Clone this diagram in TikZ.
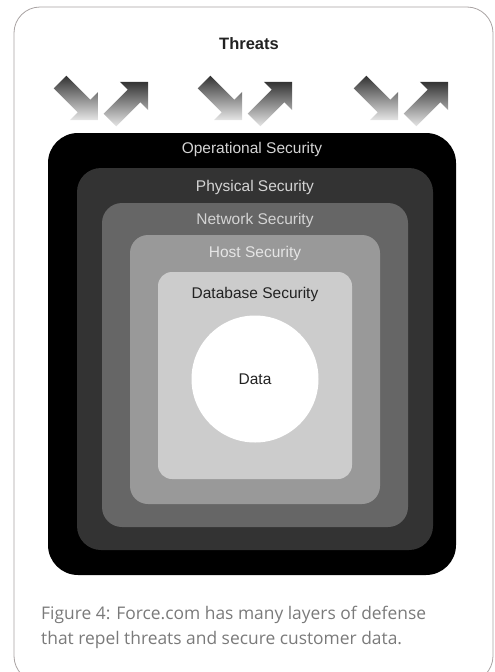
\documentclass[tikz,border=0pt]{standalone}
\usepackage{fontspec}
\setmainfont{Liberation Sans}
\newfontfamily\captionfont{Open Sans}
\usepackage{xcolor}
\definecolor{cardEdge}{HTML}{A8A2A2}
\definecolor{layerOne}{HTML}{000000}
\definecolor{layerTwo}{HTML}{333333}
\definecolor{layerThree}{HTML}{666666}
\definecolor{layerFour}{HTML}{999999}
\definecolor{layerFive}{HTML}{CCCCCC}
\definecolor{lightText}{HTML}{D4D4D4}
\definecolor{darkText}{HTML}{222222}
\definecolor{captionGray}{HTML}{7A7A7A}
\usetikzlibrary{positioning, calc}

\begin{document}
\begin{tikzpicture}[
        x=1pt, y=-1pt,
        layer/.style={rectangle, rounded corners=#1, draw=none, inner sep=0pt},
        lbl/.style={font=\fontsize{15.5}{17}\selectfont, inner sep=0pt},
        darrow/.style={top color=layerTwo, bottom color=white!90!black, draw=none},
    ]
        \useasboundingbox (0,0) rectangle (495,672);

        % Card
        \draw[cardEdge, line width=0.8pt, rounded corners=26] (14,7) rectangle (493,682);

        % Title
        \node[font=\fontsize{16.5}{18}\selectfont\bfseries, text=darkText] (threats) at (249,44) {Threats};

        % Threat arrows (in and out)
        \foreach \dx in {0,144,300} {
            \shade[darrow] ($(60+\dx,82)$) -- ++(-6.36,6.36) -- ++(24.04,24.05) -- ++(-7.78,7.77)
                -- ++(28.28,0) -- ++(0,-28.28) -- ++(-7.77,7.78) -- ++(-24.05,-24.04) -- cycle;
            \shade[darrow] ($(110+\dx,120)$) -- ++(-6.36,-6.36) -- ++(24.04,-24.05) -- ++(-7.78,-7.77)
                -- ++(28.28,0) -- ++(0,28.28) -- ++(-7.77,-7.78) -- ++(-24.05,24.04) -- cycle;
        }

        % Layers
        \node[layer=30, fill=layerOne, minimum width=408, minimum height=442] (ops) at (252,354) {};
        \node[layer=24, fill=layerTwo, minimum width=356, minimum height=382] (phys) at (255,359) {};
        \node[layer=20, fill=layerThree, minimum width=306, minimum height=324] (net) at (255,365) {};
        \node[layer=18, fill=layerFour, minimum width=250, minimum height=269] (host) at (255,369.5) {};
        \node[layer=14, fill=layerFive, minimum width=194, minimum height=207] (db) at (255,375.5) {};
        \node[circle, fill=white, minimum size=127, inner sep=0pt] (data) at (255,379) {};

        % Layer labels
        \node[lbl, text=lightText] (opsl) at ([yshift=-17pt]ops.north) {Operational Security};
        \node[lbl, text=lightText] (physl) at ([yshift=-20pt]phys.north) {Physical Security};
        \node[lbl, text=lightText] (netl) at ([yshift=-18pt]net.north) {Network Security};
        \node[lbl, text=white!90!black] (hostl) at ([yshift=-19pt]host.north) {Host Security};
        \node[lbl, text=darkText] (dbl) at ([yshift=-23pt]db.north) {Database Security};
        \node[lbl, text=darkText] (datal) at (data.center) {Data};

        % Caption
        \node[anchor=north west, align=left, inner sep=0pt, text=captionGray,
            font=\captionfont\fontsize{17.4}{25}\selectfont] (caption) at (41,606)
            {Figure 4: Force.com has many layers of defense\\that repel threats and secure customer data.};

    \end{tikzpicture}
\end{document}
